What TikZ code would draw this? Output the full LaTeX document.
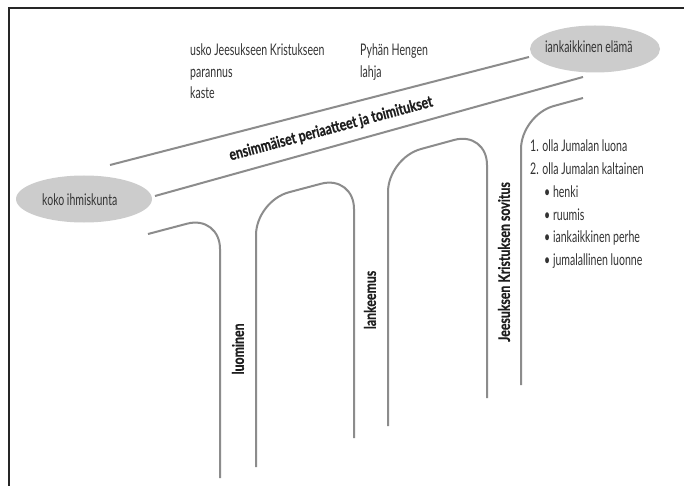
\documentclass[tikz,border=0pt]{standalone}
\usepackage{fontspec}
\setmainfont{Lato}
\newfontfamily\condfont[FakeStretch=0.66]{Lato}
\newfontfamily\boldcond[FakeStretch=0.77,FakeBold=0.6]{Lato Bold}
\usetikzlibrary{shapes.geometric}
\definecolor{linegray}{HTML}{8C8C8C}
\definecolor{fillgray}{HTML}{CCCCCC}
\definecolor{txt}{HTML}{333333}
\definecolor{btxt}{HTML}{1E1E1E}
\begin{document}
\begin{tikzpicture}[x=1pt,y=-1pt,
  frame/.style={draw=black!85,line width=1.3pt},
  band/.style={draw=linegray,line width=2pt},
  arch/.style={draw=linegray,line width=2pt,rounded corners=34pt},
  blob/.style={ellipse,fill=fillgray,minimum width=130pt,minimum height=47pt,inner sep=0pt},
  plain/.style={anchor=base west,inner sep=0pt,text=txt,font=\condfont\fontsize{16}{18}\selectfont},
  vlabel/.style={rotate=90,inner sep=0pt,text=btxt,font=\boldcond\fontsize{16}{18}\selectfont},
  blabel/.style={inner sep=0pt,text=btxt,font=\boldcond\fontsize{16}{18}\selectfont}]
\useasboundingbox (0,0) rectangle (684,486);
\fill[white] (0,0) rectangle (684,486);
% frame
\draw[frame] (684,8) -- (9,8) -- (9,486);
% ellipses
\node[blob,minimum width=136pt] (koko) at (84,199) {};
\node[plain] (kokot) at (42,206) {koko ihmiskunta};
\node[blob] (iank) at (595,49) {};
\node[plain] (iankt) at (545,53) {iankaikkinen elämä};
% band
\coordinate (u1) at (110,165);
\coordinate (u2) at (529,57);
\coordinate (l1) at (155,196);
\coordinate (l2) at (583,77);
\draw[band] (u1) -- (u2);
\draw[band] (l1) -- (l2);
\node[blabel,rotate=15] (bandlbl) at (331,129) {ensimmäiset periaatteet ja toimitukset};
% arches
\draw[arch] (148,234) -- (220,215) -- (220,478);
\draw[arch] (256,467) -- (256,201) -- (354,175) -- (354,438);
\draw[arch] (388,426) -- (388,158) -- (487,131) -- (487,398);
\draw[arch] (521,385) -- (521,115) -- (583,98);
% vertical labels
\node[vlabel] (luo) at (238,349) {luominen};
\node[vlabel] (lank) at (370,300) {lankeemus};
\node[vlabel] (sov) at (504,262) {Jeesuksen Kristuksen sovitus};
% top texts
\node[plain] (t1) at (190,56) {usko Jeesukseen Kristukseen};
\node[plain] (t2) at (190,78) {parannus};
\node[plain] (t3) at (190,99) {kaste};
\node[plain] (t4) at (360,56) {Pyhän Hengen};
\node[plain] (t5) at (360,78) {lahja};
% list
\node[plain] (r1) at (530,152) {1. olla Jumalan luona};
\node[plain] (r2) at (530,175) {2. olla Jumalan kaltainen};
\node[plain] (r3) at (544,197) {\textbullet\ henki};
\node[plain] (r4) at (544,220) {\textbullet\ ruumis};
\node[plain] (r5) at (544,242) {\textbullet\ iankaikkinen perhe};
\node[plain] (r6) at (544,265) {\textbullet\ jumalallinen luonne};
\end{tikzpicture}
\end{document}
